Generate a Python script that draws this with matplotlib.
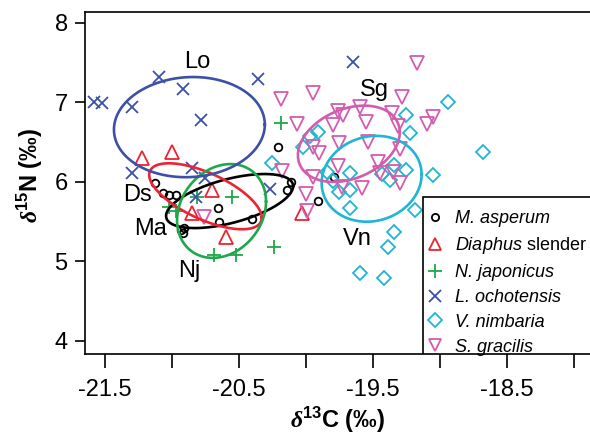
import numpy as np
import matplotlib
matplotlib.use("Agg")
import matplotlib.pyplot as plt
from matplotlib.lines import Line2D
from matplotlib.patches import Rectangle

plt.rcParams['font.family'] = ['Liberation Sans', 'DejaVu Sans']
plt.rcParams['mathtext.fontset'] = 'custom'
plt.rcParams['mathtext.rm'] = 'Liberation Sans'
plt.rcParams['mathtext.it'] = 'Liberation Sans:italic'
plt.rcParams['mathtext.bf'] = 'Liberation Sans:bold'
plt.rcParams['mathtext.sf'] = 'Liberation Serif:italic:bold'

# --- data (d13C, d15N) ---
ma_c = [-21.13, -21.07, -21.02, -20.97, -20.66, -20.65, -20.40, -20.14, -20.11,
        -20.21, -19.91, -19.79, -20.93, -20.92, -20.91]
ma_n = [5.99, 5.86, 5.84, 5.84, 5.67, 5.50, 5.54, 5.90, 6.00,
        6.44, 5.76, 6.06, 5.40, 5.36, 5.42]

ds_c = [-21.22, -21.00, -20.70, -20.85, -20.60, -20.03]
ds_n = [6.30, 6.38, 5.90, 5.61, 5.31, 5.61]

nj_c = [-20.19, -20.55, -21.02, -20.97, -20.81, -20.69, -20.52, -20.24]
nj_n = [6.74, 5.81, 5.69, 5.64, 5.81, 5.08, 5.08, 5.18]

lo_c = [-21.58, -21.52, -21.30, -21.10, -20.92, -20.78, -20.36, -21.30, -20.85,
        -20.75, -20.82, -20.27, -19.65]
lo_n = [7.01, 6.99, 6.94, 7.32, 7.17, 6.78, 7.30, 6.11, 6.18,
        6.05, 5.81, 5.91, 7.51]

vn_c = [-20.25, -20.02, -19.97, -19.91, -19.84, -19.80, -18.94, -19.25, -19.22,
        -18.68, -19.05, -19.34, -19.25, -19.67, -19.75, -19.67, -19.43, -19.37,
        -19.67, -19.19, -19.34, -19.39, -19.60, -19.42]
vn_n = [6.24, 6.44, 6.58, 6.63, 6.13, 6.01, 7.01, 6.84, 6.62,
        6.38, 6.09, 6.21, 6.15, 6.11, 5.87, 5.90, 6.10, 6.03,
        5.67, 5.65, 5.37, 5.18, 4.86, 4.79]

sg_c = [-19.17, -19.95, -19.28, -20.19, -20.07, -19.76, -19.72, -19.60, -19.55,
        -19.36, -19.31, -19.10, -19.05, -19.80, -19.95, -19.90, -19.54, -19.75,
        -19.30, -19.46, -19.76, -19.35, -19.45, -19.30, -19.95, -19.73, -19.58,
        -20.00, -20.18, -19.99, -20.76]
sg_n = [7.50, 7.12, 7.07, 7.04, 6.73, 6.89, 6.84, 6.94, 6.76,
        6.87, 6.70, 6.73, 6.82, 6.72, 6.44, 6.37, 6.50, 6.49,
        6.42, 6.25, 6.20, 6.13, 6.11, 5.99, 6.06, 5.94, 5.93,
        5.85, 6.14, 5.64, 5.56]

# ellipses: centre, half-range in C, half-range in N, correlation
ell_cx = [-20.57, -20.75, -20.63, -20.87, -19.51, -19.68]
ell_cy = [5.76, 5.82, 5.635, 6.69, 6.04, 6.48]
ell_hx = [0.474, 0.42, 0.332, 0.563, 0.373, 0.38]
ell_hy = [0.34, 0.415, 0.59, 0.63, 0.54, 0.48]
ell_r = [0.55, -0.65, 0.2, 0.05, 0.1, 0.3]

names = [r'M. asperum', r'$\mathit{Diaphus}$ slender', r'N. japonicus',
         r'L. ochotensis', r'V. nimbaria', r'S. gracilis']
short = ['Ma', 'Ds', 'Nj', 'Lo', 'Vn', 'Sg']
short_x = [-21.16, -21.26, -20.87, -20.81, -19.62, -19.49]
short_y = [5.41, 5.84, 4.88, 7.51, 5.28, 7.16]

colors = ['black', '#EC2431', '#1FA84A', '#3C50A8', '#1EB6D2', '#D35CAE']
markers = ['o', '^', '+', 'x', 'D', 'v']
msizes = [5.5, 9.5, 10.5, 8.5, 7.2, 9.5]

xs = [ma_c, ds_c, nj_c, lo_c, vn_c, sg_c]
ys = [ma_n, ds_n, nj_n, lo_n, vn_n, sg_n]


def ellipse_xy(cx, cy, hx, hy, r, n=300):
    t = np.linspace(0, 2 * np.pi, n)
    return cx + hx * np.cos(t), cy + hy * (r * np.cos(t) + np.sqrt(1 - r * r) * np.sin(t))


fig = plt.figure(figsize=(5.9, 4.4), dpi=100)
ax = fig.add_axes([85 / 590, 86 / 440, 4.049 * 134 / 590, 342 / 440])

for i in range(6):
    ax.plot(xs[i], ys[i], ls='none', marker=markers[i], ms=msizes[i],
            mfc='none', mec=colors[i], mew=1.3, zorder=2)

for i in range(6):
    ex, ey = ellipse_xy(ell_cx[i], ell_cy[i], ell_hx[i], ell_hy[i], ell_r[i])
    ax.plot(ex, ey, color=colors[i], lw=1.9, zorder=3)
    ax.text(short_x[i], short_y[i], short[i], fontsize=17, ha='center', va='center', zorder=4)

ax.set_xlim(-21.649, -17.6)
ax.set_ylim(3.836, 8.138)
ax.set_xticks([-21.5, -20.5, -19.5, -18.5])
ax.set_xticklabels(['-21.5', '-20.5', '-19.5', '-18.5'])
ax.set_xticks([-21, -20, -19, -18], minor=True)
ax.set_yticks([4, 5, 6, 7, 8])
ax.tick_params(axis='x', which='both', direction='out', length=10, width=1.2,
               labelsize=17, pad=8)
ax.tick_params(axis='y', direction='out', length=7.5, width=1.2, labelsize=17, pad=5)
for s in ax.spines.values():
    s.set_linewidth(1.2)

# legend box reaching the bottom axis
ax.add_patch(Rectangle((0.623, 0), 0.5, 0.459, transform=ax.transAxes,
                       fc='white', ec='black', lw=1.2, zorder=5))
handles = [Line2D([], [], ls='none', marker=markers[i], ms=msizes[i] * 0.95, mfc='none',
                  mec=colors[i], mew=1.3) for i in range(6)]
leg = ax.legend(handles, names, loc='upper left', bbox_to_anchor=(426 / 590, 1 - 210 / 440),
                bbox_transform=fig.transFigure, frameon=False, fontsize=13,
                handlelength=1.0, handletextpad=0.6, labelspacing=0.44,
                borderpad=0, borderaxespad=0)
leg.set_zorder(6)
for i, t in enumerate(leg.get_texts()):
    if i != 1:
        t.set_style('italic')

fig.text(338 / 590, 1 - 420 / 440, r'$\mathsf{\delta}^{\mathbf{13}}$C (‰)',
         fontsize=17, fontweight='bold', ha='center', va='center')
fig.text(30 / 590, 1 - 175 / 440, r'$\mathsf{\delta}^{\mathbf{15}}$N (‰)',
         fontsize=17, fontweight='bold', ha='center', va='center', rotation=90)

fig.savefig('out.png', dpi=100)
